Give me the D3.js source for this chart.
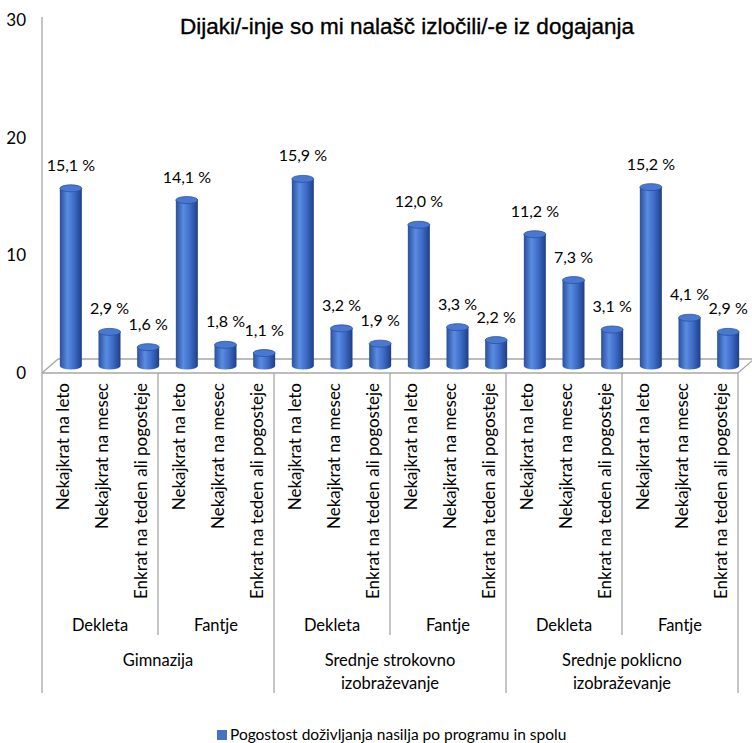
<!DOCTYPE html>
<meta charset="utf-8">
<script src="https://cdn.jsdelivr.net/npm/d3@7"></script>
<style>
  body { margin: 0; background: #fff; }
  svg text { font-family: Lato, "Open Sans", sans-serif; fill: #000; }
</style>
<div id="vis"></div>
<script>
// data
const programs = ["Gimnazija", "Srednje strokovno izobraževanje", "Srednje poklicno izobraževanje"];
const genders = ["Dekleta", "Fantje"];
const frequencies = ["Nekajkrat na leto", "Nekajkrat na mesec", "Enkrat na teden ali pogosteje"];
const values = [15.1, 2.9, 1.6, 14.1, 1.8, 1.1, 15.9, 3.2, 1.9, 12.0, 3.3, 2.2, 11.2, 7.3, 3.1, 15.2, 4.1, 2.9];
const yTicks = [0, 10, 20, 30];
const title = "Dijaki/-inje so mi nalašč izločili/-e iz dogajanja";
const legendLabel = "Pogostost doživljanja nasilja po programu in spolu";

const W = 752, H = 743;
const plotL = 42, plotR = 738, floorY = 373, plotT = 20;
const depthX = 16, depthY = -14;

const svg = d3.select("#vis").append("svg")
  .attr("width", W).attr("height", H);

const defs = svg.append("defs");
const grad = defs.append("linearGradient").attr("id", "cyl")
  .attr("x1", "0%").attr("x2", "100%").attr("y1", "0%").attr("y2", "0%");
grad.append("stop").attr("offset", "0%").attr("stop-color", "#2a4f9c");
grad.append("stop").attr("offset", "35%").attr("stop-color", "#5a8ce2");
grad.append("stop").attr("offset", "65%").attr("stop-color", "#3d6cc8");
grad.append("stop").attr("offset", "100%").attr("stop-color", "#1f3e84");

const y = d3.scaleLinear().domain([0, 30]).range([floorY, plotT]);
const x = d3.scaleBand().domain(d3.range(values.length)).range([plotL, plotR]);
const bw = x.bandwidth();

// floor
const floor = svg.append("g").attr("stroke", "#a6a6a6").attr("stroke-width", 1.3).attr("fill", "none");
floor.append("line").attr("x1", plotL).attr("x2", plotR).attr("y1", floorY).attr("y2", floorY);
floor.append("line").attr("x1", plotL + depthX).attr("x2", W).attr("y1", floorY + depthY).attr("y2", floorY + depthY);
floor.append("line").attr("x1", plotL).attr("y1", floorY).attr("x2", plotL + depthX).attr("y2", floorY + depthY);
floor.append("line").attr("x1", plotR).attr("y1", floorY).attr("x2", plotR + depthX).attr("y2", floorY + depthY);

// value axis
svg.append("line").attr("x1", plotL).attr("x2", plotL).attr("y1", y(30) - 3).attr("y2", 693)
  .attr("stroke", "#a6a6a6").attr("stroke-width", 1.3);
svg.append("g").selectAll("text").data(yTicks).join("text")
  .attr("x", 26).attr("y", d => y(d)).attr("dy", "0.35em")
  .attr("text-anchor", "end").attr("font-size", 17)
  .text(d => d);

// cylinders
const rx = 11, ry = 3.5;
const offX = bw / 2 + 9.5, offY = -7;
const bars = svg.append("g").selectAll("g").data(values).join("g");
bars.append("path")
  .attr("fill", "url(#cyl)")
  .attr("d", (d, i) => {
    const cx = x(i) + offX, y0 = y(0) + offY, y1 = y(d) + offY;
    return `M${cx - rx},${y1} L${cx - rx},${y0} A${rx},${ry} 0 0 0 ${cx + rx},${y0} L${cx + rx},${y1} Z`;
  });
bars.append("ellipse")
  .attr("cx", (d, i) => x(i) + offX).attr("cy", d => y(d) + offY)
  .attr("rx", rx).attr("ry", ry)
  .attr("fill", "#4878d2").attr("stroke", "#2c529f").attr("stroke-width", 0.8);

// value labels
bars.append("text")
  .attr("x", (d, i) => x(i) + offX).attr("y", d => y(d) + offY - ry - 14)
  .attr("text-anchor", "middle").attr("font-size", 16)
  .text(d => d3.format(".1f")(d).replace(".", ",") + " %");

// category labels (rotated)
svg.append("g").selectAll("text").data(values).join("text")
  .attr("transform", (d, i) => `translate(${x(i) + bw / 2 + 2},383) rotate(-90)`)
  .attr("text-anchor", "end").attr("dy", "0.35em").attr("font-size", 17)
  .text((d, i) => frequencies[i % 3]);

// separators
const sep = svg.append("g").attr("stroke", "#a6a6a6").attr("stroke-width", 1.3);
d3.range(1, 7).forEach(k => {
  const gx = k < 6 ? x(k * 3) : plotR;
  sep.append("line").attr("x1", gx).attr("x2", gx).attr("y1", floorY).attr("y2", k % 2 === 0 ? 693 : 635);
});

// gender labels
const gw = bw * 3;
svg.append("g").selectAll("text").data(d3.range(6)).join("text")
  .attr("x", k => x(k * 3) + gw / 2).attr("y", 631)
  .attr("text-anchor", "middle").attr("font-size", 16.5)
  .text(k => genders[k % 2]);

// program labels
const progLines = [["Gimnazija"], ["Srednje strokovno", "izobraževanje"], ["Srednje poklicno", "izobraževanje"]];
const pg = svg.append("g").selectAll("text").data(programs).join("text")
  .attr("text-anchor", "middle").attr("font-size", 16.5);
pg.each(function(p, k) {
  const cx = x(k * 6) + gw;
  d3.select(this).selectAll("tspan").data(progLines[k]).join("tspan")
    .attr("x", cx).attr("y", (l, j) => 666 + j * 23).text(l => l);
});

// title
svg.append("text").attr("x", 407).attr("y", 34)
  .attr("text-anchor", "middle")
  .style("font-family", "'Liberation Sans', Arial, sans-serif")
  .attr("font-size", 22.5).attr("stroke", "#000").attr("stroke-width", 0.35)
  .text(title);

// legend
svg.append("rect").attr("x", 217).attr("y", 730).attr("width", 10).attr("height", 10).attr("fill", "#4472c4");
svg.append("text").attr("x", 230).attr("y", 740).attr("font-size", 15.5).text(legendLabel);
</script>
